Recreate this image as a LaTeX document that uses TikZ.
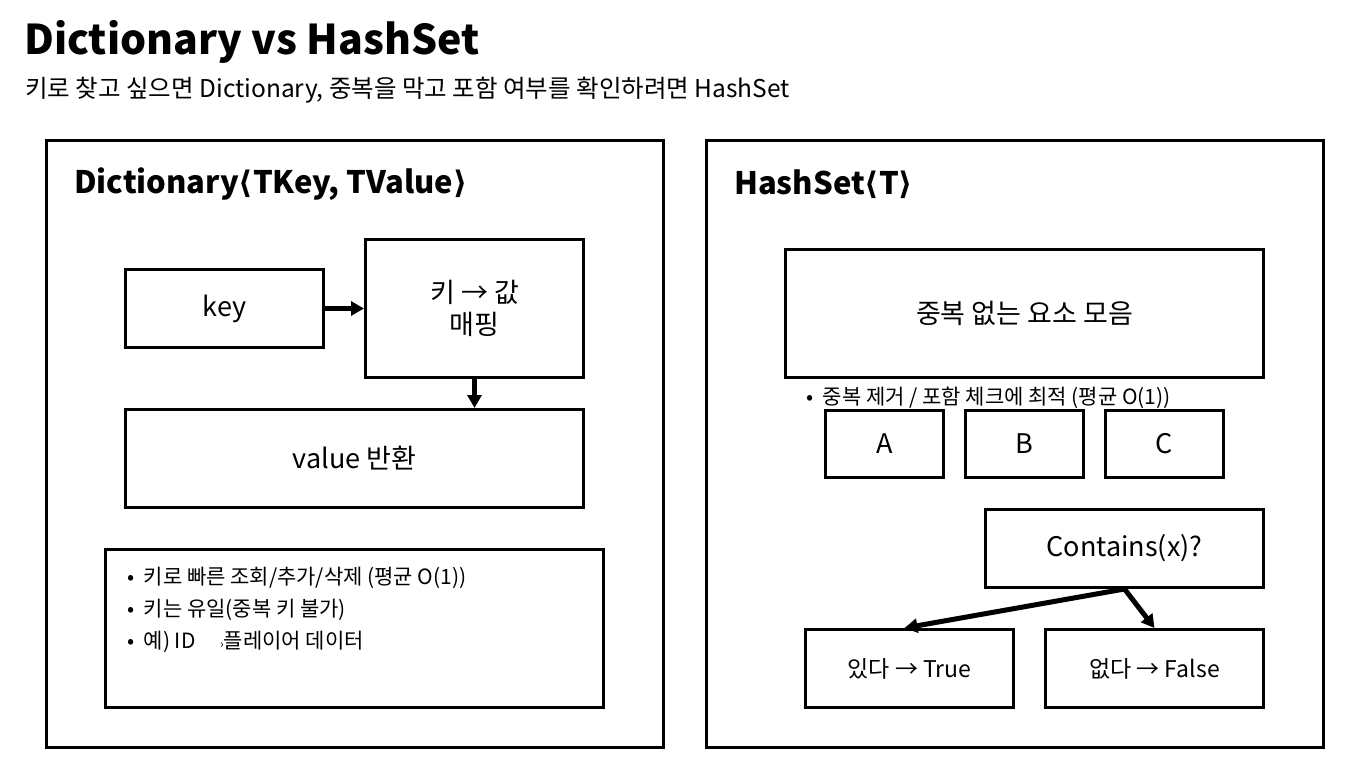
\documentclass[tikz,border=0pt]{standalone}
\usepackage{fontspec}
\setmainfont{Noto Sans CJK KR}
\newfontfamily\symfont{DejaVu Sans}
\usetikzlibrary{positioning,arrows.meta}
\newcommand{\lang}{{\symfont\char"27E8}}
\newcommand{\rang}{{\symfont\char"27E9}}
\tikzset{
  panel/.style={draw, line width=3pt, minimum width=617pt, minimum height=607pt, anchor=north west},
  paneltitle/.style={anchor=west, font=\fontsize{31}{36}\selectfont\bfseries, inner sep=0pt},
  stepbox/.style={draw, line width=3pt, align=center, anchor=north west, inner sep=0pt, font=\fontsize{27}{32}\selectfont},
  smallbox/.style={stepbox, font=\fontsize{23}{28}\selectfont},
  flowarr/.style={-{Triangle[length=13pt,width=14pt]}, line width=5pt},
  notetext/.style={align=left, anchor=north west, inner sep=0pt, font=\fontsize{21}{32}\selectfont}
}
\begin{document}
\begin{tikzpicture}[x=1pt, y=-1pt]
  \useasboundingbox (0,0) rectangle (1353,778);
  % heading
  \node[anchor=west, inner sep=0pt, font=\fontsize{41}{48}\selectfont\bfseries] (title) at (24,42) {Dictionary vs HashSet};
  \node[anchor=west, inner sep=0pt, font=\fontsize{24.5}{28}\selectfont] (sub) at (25,90) {키로 찾고 싶으면 Dictionary, 중복을 막고 포함 여부를 확인하려면 HashSet};

  % Dictionary panel
  \node[panel] (dictpanel) at (45,139) {};
  \node[paneltitle] (dicttitle) at (74,184) {Dictionary\lang TKey, TValue\rang};
  \node[stepbox, minimum width=198pt, minimum height=78pt] (key) at (124,268) {key};
  \node[stepbox, minimum width=218pt, minimum height=138pt] (map) at (364,238) {키 → 값\\매핑};
  \node[stepbox, minimum width=458pt, minimum height=98pt] (val) at (124,408) {value 반환};
  \node[stepbox, minimum width=498pt, minimum height=158pt] (notes) at (104,548) {};
  \node[notetext] (notelist) at (127,567) {•\ \ 키로 빠른 조회/추가/삭제 (평균 O(1))\\
    •\ \ 키는 유일(중복 키 불가)\\
    •\ \ 예) ID \hspace{20pt}{\fontsize{12}{12}\selectfont ›}플레이어 데이터};
  \draw[flowarr] (key) -- (map);
  \draw[flowarr] (map.south) -- (map.south |- val.north);

  % HashSet panel
  \node[panel] (setpanel) at (705,139) {};
  \node[paneltitle] (settitle) at (734,184) {HashSet\lang T\rang};
  \node[stepbox, minimum width=478pt, minimum height=128pt] (uniq) at (784,248) {중복 없는 요소 모음};
  \node[anchor=west, inner sep=0pt, font=\fontsize{21}{24}\selectfont] (setnote) at (806,398) {•\ \ 중복 제거 / 포함 체크에 최적 (평균 O(1))};
  \node[stepbox, minimum width=118pt, minimum height=67pt] (ea) at (824,409) {A};
  \node[stepbox, minimum width=118pt, minimum height=67pt] (eb) at (964,409) {B};
  \node[stepbox, minimum width=118pt, minimum height=67pt] (ec) at (1104,409) {C};
  \node[stepbox, minimum width=278pt, minimum height=78pt] (cont) at (984,508) {Contains(x)?};
  \node[smallbox, minimum width=208pt, minimum height=78pt] (yes) at (804,628) {있다 → True};
  \node[smallbox, minimum width=218pt, minimum height=78pt] (no) at (1044,628) {없다 → False};
  \draw[flowarr] (cont.south) -- ([xshift=-5pt]yes.north);
  \draw[flowarr] (cont.south) -- (no.north);
\end{tikzpicture}
\end{document}
